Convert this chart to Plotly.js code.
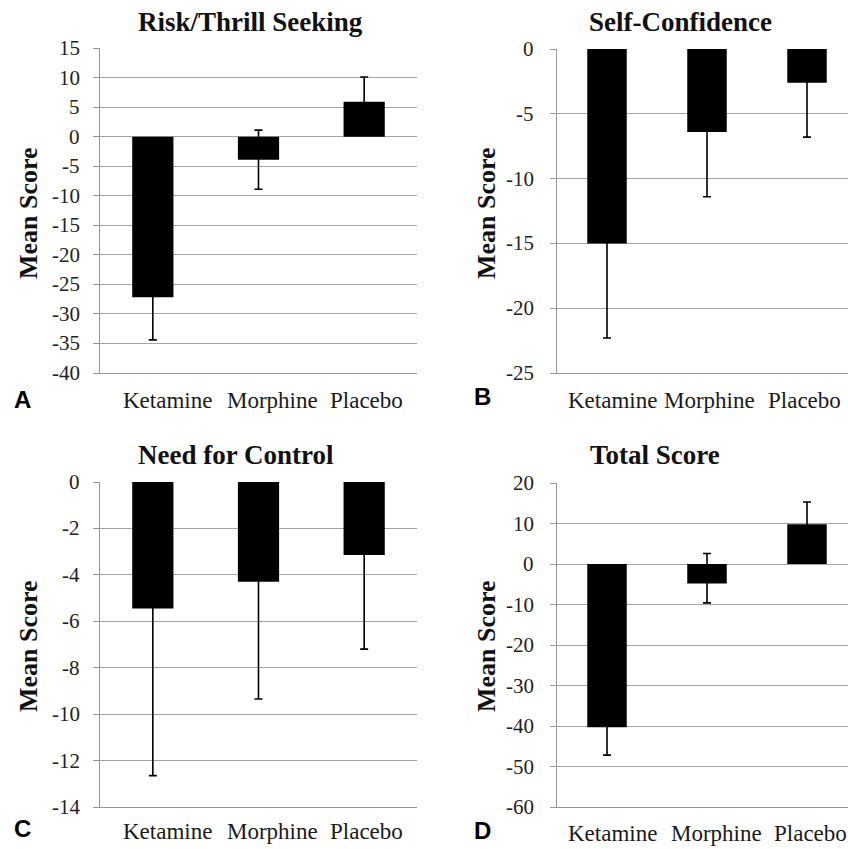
<!DOCTYPE html>
<html>
<head>
<meta charset="utf-8">
<script src="https://cdn.plot.ly/plotly-3.0.1.min.js"></script>
<style>html,body{margin:0;padding:0;background:#fff;}#chart{width:848px;height:849px;}</style>
</head>
<body>
<div id="chart"></div>
<script>
// ---- data ----
var categories = ["Ketamine", "Morphine", "Placebo"];

var panelTitles = ["Risk/Thrill Seeking", "Self-Confidence", "Need for Control", "Total Score"];
var panelLetters = ["A", "B", "C", "D"];
var yTitle = "Mean Score";

var riskValues = [-27.2, -3.9, 5.9];
var riskErrPlus = [7.2, 5.0, 4.2];
var riskErrMinus = [7.2, 5.0, 4.2];

var confValues = [-15.0, -6.4, -2.6];
var confErrPlus = [7.3, 5.0, 4.2];
var confErrMinus = [7.3, 5.0, 4.2];

var controlValues = [-5.45, -4.3, -3.15];
var controlErrPlus = [7.2, 5.05, 4.05];
var controlErrMinus = [7.2, 5.05, 4.05];

var totalValues = [-40.3, -4.8, 9.8];
var totalErrPlus = [6.9, 7.4, 5.5];
var totalErrMinus = [6.9, 4.8, 5.5];

var riskTicks = [15, 10, 5, 0, -5, -10, -15, -20, -25, -30, -35, -40];
var confTicks = [0, -5, -10, -15, -20, -25];
var controlTicks = [0, -2, -4, -6, -8, -10, -12, -14];
var totalTicks = [20, 10, 0, -10, -20, -30, -40, -50, -60];

// ---- layout helpers ----
var W = 848, H = 849;
function px(x) { return x / W; }
function py(y) { return 1 - y / H; }

var serif = "Liberation Serif";
var sans = "Liberation Sans";
var gridCol = "#a4a4a4";
var axisCol = "#969696";

var idx = categories.map(function (c, i) { return i; });

function barTrace(vals, plus, minus, xa, ya, w) {
  return {
    type: "bar",
    x: idx,
    y: vals,
    width: w,
    xaxis: xa,
    yaxis: ya,
    marker: { color: "#000000", line: { width: 0 } },
    error_y: {
      type: "data", symmetric: false, array: plus, arrayminus: minus,
      color: "#000000", thickness: 1.6, width: 4
    },
    hoverinfo: "skip",
    showlegend: false
  };
}

var data = [
  barTrace(riskValues, riskErrPlus, riskErrMinus, "x", "y", 0.39),
  barTrace(confValues, confErrPlus, confErrMinus, "x2", "y2", 0.395),
  barTrace(controlValues, controlErrPlus, controlErrMinus, "x3", "y3", 0.39),
  barTrace(totalValues, totalErrPlus, totalErrMinus, "x4", "y4", 0.395)
];

function xAxis(domPx, range, anchor) {
  return {
    domain: [px(domPx[0]), px(domPx[1])],
    range: range,
    anchor: anchor,
    showticklabels: false,
    ticks: "",
    showgrid: false,
    zeroline: false,
    showline: true,
    linecolor: axisCol,
    linewidth: 1.2,
    fixedrange: true
  };
}

function yAxis(domPx, range, ticks, anchor) {
  return {
    domain: [py(domPx[1]), py(domPx[0])],
    range: range,
    anchor: anchor,
    tickmode: "array",
    tickvals: ticks,
    showticklabels: false,
    ticks: "outside",
    ticklen: 6,
    tickcolor: axisCol,
    showgrid: true,
    gridcolor: gridCol,
    gridwidth: 1,
    zeroline: false,
    showline: true,
    linecolor: axisCol,
    linewidth: 1.2,
    fixedrange: true
  };
}

var annotations = [];
function addText(text, x, y, font, opts) {
  var a = {
    text: text, xref: "paper", yref: "paper", x: px(x), y: py(y),
    showarrow: false, font: font, xanchor: "center", yanchor: "middle"
  };
  for (var k in opts) a[k] = opts[k];
  annotations.push(a);
}

var titleFont = { family: serif, size: 27, color: "#111111", weight: "bold" };
var yTitleFont = { family: serif, size: 26, color: "#111111", weight: "bold" };
var letterFont = { family: sans, size: 24, color: "#000000", weight: "bold" };
var catFont = { family: serif, size: 23, color: "#1a1a1a" };
var yTickFont = { family: serif, size: 21, color: "#222222" };

// category labels (placed through each x axis' scale)
function addCategoryLabels(xa, ya, offsets, yshift) {
  categories.forEach(function (c, i) {
    annotations.push({
      text: c, xref: xa, yref: ya + " domain", x: i + offsets[i], y: 0,
      xanchor: "center", yanchor: "middle", yshift: yshift,
      showarrow: false, font: catFont
    });
  });
}
// y tick labels (placed through each y axis' scale)
function addYTickLabels(xa, ya, ticks, xshift) {
  ticks.forEach(function (t) {
    annotations.push({
      text: String(t), xref: xa + " domain", yref: ya, x: 0, y: t,
      xanchor: "right", yanchor: "middle", xshift: xshift,
      showarrow: false, font: yTickFont
    });
  });
}

addCategoryLabels("x", "y", [0.14, 0.13, 0.02], -27);
addCategoryLabels("x2", "y2", [0.05, 0.02, -0.03], -27);
addCategoryLabels("x3", "y3", [0.14, 0.13, 0.02], -24);
addCategoryLabels("x4", "y4", [0.05, 0.09, 0.03], -26);

addYTickLabels("x", "y", riskTicks, -18);
addYTickLabels("x2", "y2", confTicks, -21);
addYTickLabels("x3", "y3", controlTicks, -18);
addYTickLabels("x4", "y4", totalTicks, -21);

addText(panelTitles[0], 250, 22, titleFont);
addText(panelTitles[1], 680, 22, titleFont);
addText(panelTitles[2], 236, 455, titleFont);
addText(panelTitles[3], 655, 455, titleFont);

addText(yTitle, 28, 213, yTitleFont, { textangle: -90 });
addText(yTitle, 486, 213, yTitleFont, { textangle: -90 });
addText(yTitle, 28, 646, yTitleFont, { textangle: -90 });
addText(yTitle, 486, 646, yTitleFont, { textangle: -90 });

addText(panelLetters[0], 12, 399, letterFont, { xanchor: "left" });
addText(panelLetters[1], 472, 396, letterFont, { xanchor: "left" });
addText(panelLetters[2], 12, 828, letterFont, { xanchor: "left" });
addText(panelLetters[3], 472, 830, letterFont, { xanchor: "left" });

var layout = {
  width: W, height: H,
  margin: { l: 0, r: 0, t: 0, b: 0 },
  font: { family: serif, color: "#222222" },
  paper_bgcolor: "#ffffff",
  plot_bgcolor: "#ffffff",
  showlegend: false,
  bargap: 0.6,
  xaxis: xAxis([100, 417], [-0.5, 2.5], "y"),
  yaxis: yAxis([48, 373], [-40, 15], riskTicks, "x"),
  xaxis2: xAxis([557, 848], [-0.5, 2.41], "y2"),
  yaxis2: yAxis([49, 373], [-25, 0], confTicks, "x2"),
  xaxis3: xAxis([100, 417], [-0.5, 2.5], "y3"),
  yaxis3: yAxis([482, 807], [-14, 0], controlTicks, "x3"),
  xaxis4: xAxis([557, 848], [-0.5, 2.41], "y4"),
  yaxis4: yAxis([483, 807], [-60, 20], totalTicks, "x4"),
  annotations: annotations
};

Plotly.newPlot("chart", data, layout, { displayModeBar: false, staticPlot: true });
</script>
</body>
</html>
